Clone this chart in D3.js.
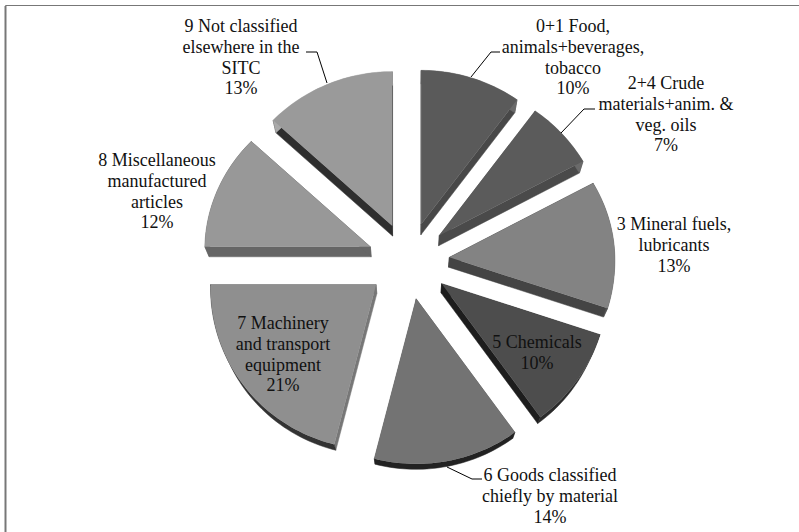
<!DOCTYPE html>
<html>
<head>
<meta charset="utf-8">
<script src="https://cdn.jsdelivr.net/npm/d3@7"></script>
<style>
	html, body { margin: 0; padding: 0; background: #fff; }
	svg { display: block; }
</style>
</head>
<body>
<script>
const categories = [
	['0+1 Food,', 'animals+beverages,', 'tobacco'],
	['2+4 Crude', 'materials+anim. &', 'veg. oils'],
	['3 Mineral fuels,', 'lubricants'],
	['5 Chemicals'],
	['6 Goods classified', 'chiefly by material'],
	['7 Machinery', 'and transport', 'equipment'],
	['8 Miscellaneous', 'manufactured', 'articles'],
	['9 Not classified', 'elsewhere in the', 'SITC']
];
const shares = [10, 7, 13, 10, 14, 21, 12, 13];
const topColors = ['#5a5a5a', '#5b5b5b', '#838383', '#4d4d4d', '#737373', '#8f8f8f', '#989898', '#9a9a9a'];
const edgeColors = ['#484848', '#4a4a4a', '#444444', '#1d1d1d', '#555555', '#777777', '#666666', '#2e2e2e'];
const rimColors = ['#6a6a6a', '#6a6a6a', '#555555', '#2a2a2a', '#222222', '#333333', '#666666', '#aaaaaa'];

// label centre x and first baseline, same order as categories
const labelX = [573, 666, 674, 537, 550, 283, 157, 241];
const labelY = [32, 89, 230, 348, 481, 329, 166, 32];
const leaders = [
	[[500, 52], [491, 52], [471, 77]],
	[[595, 109], [584, 109], [561, 133]],
	[[482, 479], [472, 479], [447, 467]],
	[[306, 52], [317, 52], [327, 83]]
];

const width = 799, height = 532;
const cx = 408.5, cy = 261;
const explode = 41, explodeSquash = 0.94;
// perspective of the tilted pie, near half is taller than far half
const radiusX = 165.5, radiusXGrow = 3;
const radiusFar = 154, radiusNear = 165;
// the under face shrinks a little toward this point, gives the 3d side
const vanish = [410, 722], shrink = 0.021;

let svg = d3.select('body').append('svg')
	.attr('width', width)
	.attr('height', height);

svg.append('rect')
	.attr('width', width)
	.attr('height', height)
	.attr('fill', '#fff');

let line = d3.line();

// frame, only top and left show in the picture
svg.append('path')
	.attr('d', line([[5.5, height], [5.5, 5.5], [width, 5.5]]))
	.attr('fill', 'none')
	.attr('stroke', '#777')
	.attr('stroke-width', 1);
svg.append('rect')
	.attr('x', 4)
	.attr('y', 6)
	.attr('width', 1)
	.attr('height', height)
	.attr('fill', '#bbb');
svg.append('rect')
	.attr('x', 6)
	.attr('y', 6)
	.attr('width', 1)
	.attr('height', height)
	.attr('fill', '#bbb');

let pie = d3.pie().sort(null)(shares);

function apex(d) {
	let mid = (d.startAngle + d.endAngle) / 2;
	return [cx + explode * Math.sin(mid), cy - explode * Math.cos(mid) * explodeSquash];
}

// angle on the pie to a point on the rim of that slice
function rimPoint(d, a) {
	let c = apex(d);
	let u = Math.sin(a), v = -Math.cos(a);
	let rx = radiusX + radiusXGrow * v;
	let ry = v < 0 ? radiusFar : radiusNear;
	return [c[0] + rx * u, c[1] + ry * v];
}

function rim(d) {
	let steps = Math.ceil((d.endAngle - d.startAngle) * 40);
	return d3.range(steps + 1).map(i => rimPoint(d, d.startAngle + (d.endAngle - d.startAngle) * i / steps));
}

function under(p) {
	return [p[0] + shrink * (vanish[0] - p[0]), p[1] + shrink * (vanish[1] - p[1])];
}

let slices = svg.selectAll('g.slice')
	.data(pie)
	.join('g')
	.attr('class', 'slice');

slices.each(function(d) {
	let g = d3.select(this);
	let pts = rim(d);
	let c = apex(d);
	let first = pts[0], last = pts[pts.length - 1];
	//the two straight walls
	[first, last].forEach(p => {
		g.append('path')
			.attr('d', line([c, p, under(p), under(c)]) + 'Z')
			.attr('fill', edgeColors[d.index])
			.attr('stroke', edgeColors[d.index])
			.attr('stroke-width', 0.5);
	});
	//outer wall
	g.append('path')
		.attr('d', line(pts.concat(pts.map(under).reverse())) + 'Z')
		.attr('fill', rimColors[d.index])
		.attr('stroke', rimColors[d.index])
		.attr('stroke-width', 0.5);
	g.append('path')
		.attr('d', line([c].concat(pts)) + 'Z')
		.attr('fill', topColors[d.index]);
});

svg.selectAll('path.leader')
	.data(leaders)
	.join('path')
	.attr('class', 'leader')
	.attr('d', d => line(d))
	.attr('fill', 'none')
	.attr('stroke', '#000')
	.attr('stroke-width', 1);

let labels = svg.selectAll('text.label')
	.data(categories)
	.join('text')
	.attr('class', 'label')
	.attr('text-anchor', 'middle')
	.attr('font-family', '"Liberation Serif", serif')
	.attr('font-size', 18)
	.attr('fill', '#111');

labels.selectAll('tspan')
	.data((d, i) => d.concat(shares[i] + '%').map(s => ({ s: s, i: i })))
	.join('tspan')
	.attr('x', d => labelX[d.i])
	.attr('y', (d, j) => labelY[d.i] + j * 20.8)
	.text(d => d.s);
</script>
</body>
</html>
